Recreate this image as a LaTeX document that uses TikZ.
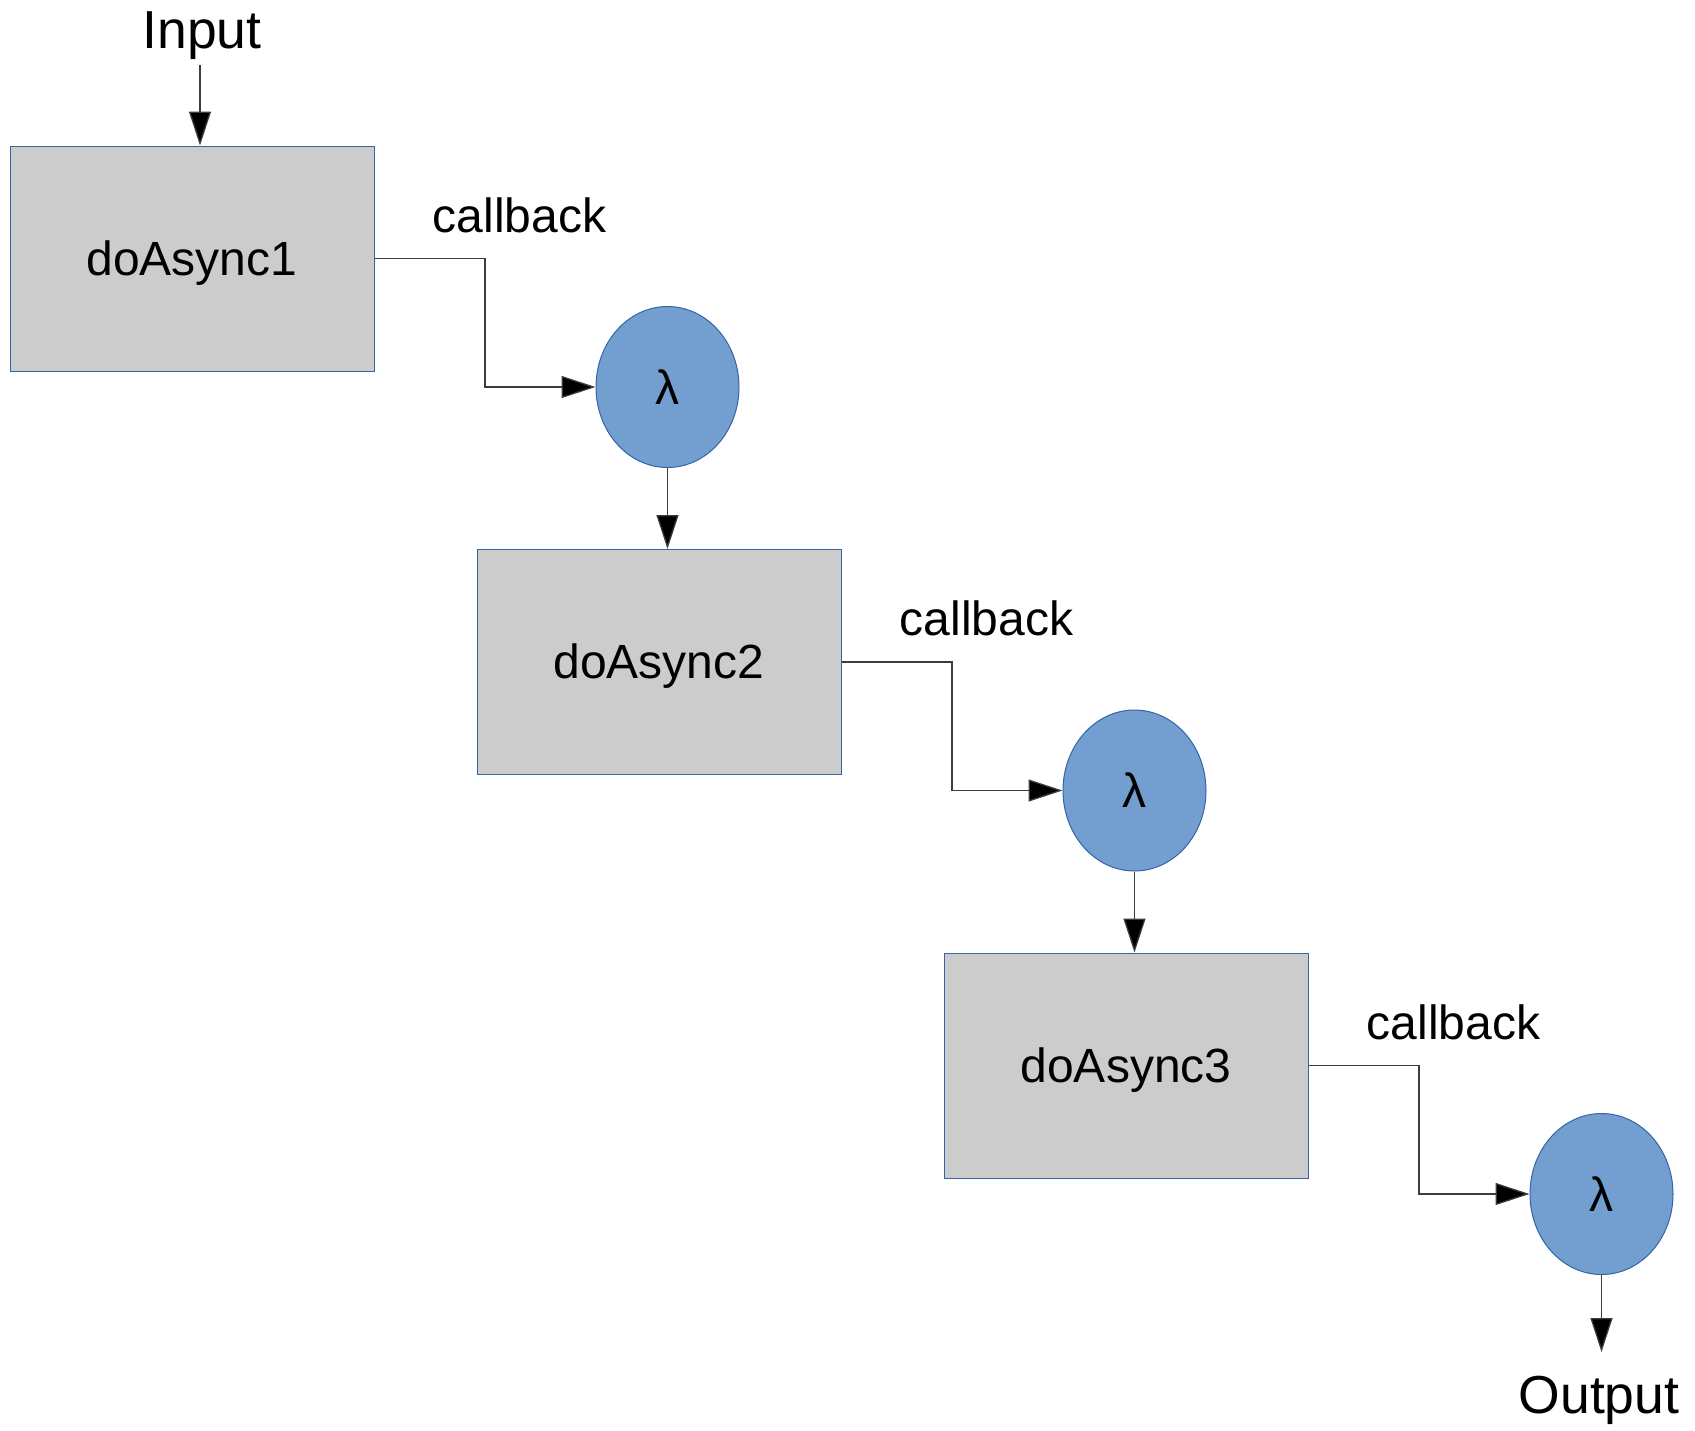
\documentclass[tikz,border=0pt]{standalone}
\usepackage{fontspec}
\setmainfont{Liberation Sans}
\usetikzlibrary{arrows.meta,shapes.geometric}
\definecolor{boxfill}{HTML}{CCCCCC}
\definecolor{edgeblue}{HTML}{3465A4}
\definecolor{lamfill}{HTML}{729FCF}
\definecolor{linegray}{HTML}{3C3C3C}
\begin{document}
\begin{tikzpicture}[x=1pt,y=-1pt,
  boxnode/.style={draw=edgeblue,fill=boxfill,line width=1pt,minimum width=364pt,minimum height=225pt,inner sep=0pt},
  lamnode/.style={draw=edgeblue,fill=lamfill,line width=1pt,ellipse,minimum width=143pt,minimum height=161pt,inner sep=0pt,font=\fontsize{48}{48}\selectfont},
  boxtext/.style={anchor=base,inner sep=0pt,font=\fontsize{48}{48}\selectfont},
  cbtext/.style={anchor=base,inner sep=0pt,font=\fontsize{48}{48}\selectfont},
  iotext/.style={anchor=base,inner sep=0pt,font=\fontsize{53.5}{53.5}\selectfont},
  arr/.style={draw=linegray,line width=1.3pt,-{Triangle[length=34pt,width=22pt,fill=black]}}]
\useasboundingbox (0,0) rectangle (1695,1430);
% boxes
\node[boxnode] (b1) at (192,258.5) {};
\node[boxnode] (b2) at (659,662) {};
\node[boxnode] (b3) at (1126,1065.5) {};
\node[boxtext] (t1) at (192,275) {doAsync1};
\node[boxtext] (t2) at (659,678.5) {doAsync2};
\node[boxtext] (t3) at (1126,1082) {doAsync3};
% lambdas
\node[lamnode] (l1) at (667.5,387) {λ};
\node[lamnode] (l2) at (1134.5,790.5) {λ};
\node[lamnode] (l3) at (1601.5,1194) {λ};
% labels
\node[cbtext] (c1) at (519.5,232) {callback};
\node[cbtext] (c2) at (986.5,635.5) {callback};
\node[cbtext] (c3) at (1453.5,1039) {callback};
\node[iotext] (in) at (202,48) {Input};
\node[iotext] (out) at (1599,1413) {Output};
% coordinates
\coordinate (inA) at (200,65);
\coordinate (bend1) at (485,258.5);
\coordinate (bend2) at (952,662);
\coordinate (bend3) at (1419,1065.5);
\coordinate (outA) at (1601.5,1352);
% connectors
\draw[arr] (inA) -- (inA |- b1.north);
\draw[arr] (b1.east) -- (bend1) |- (l1.west);
\draw[arr] (l1.south) -- (l1.south |- b2.north);
\draw[arr] (b2.east) -- (bend2) |- (l2.west);
\draw[arr] (l2.south) -- (l2.south |- b3.north);
\draw[arr] (b3.east) -- (bend3) |- (l3.west);
\draw[arr] (l3.south) -- (outA);
\end{tikzpicture}
\end{document}
